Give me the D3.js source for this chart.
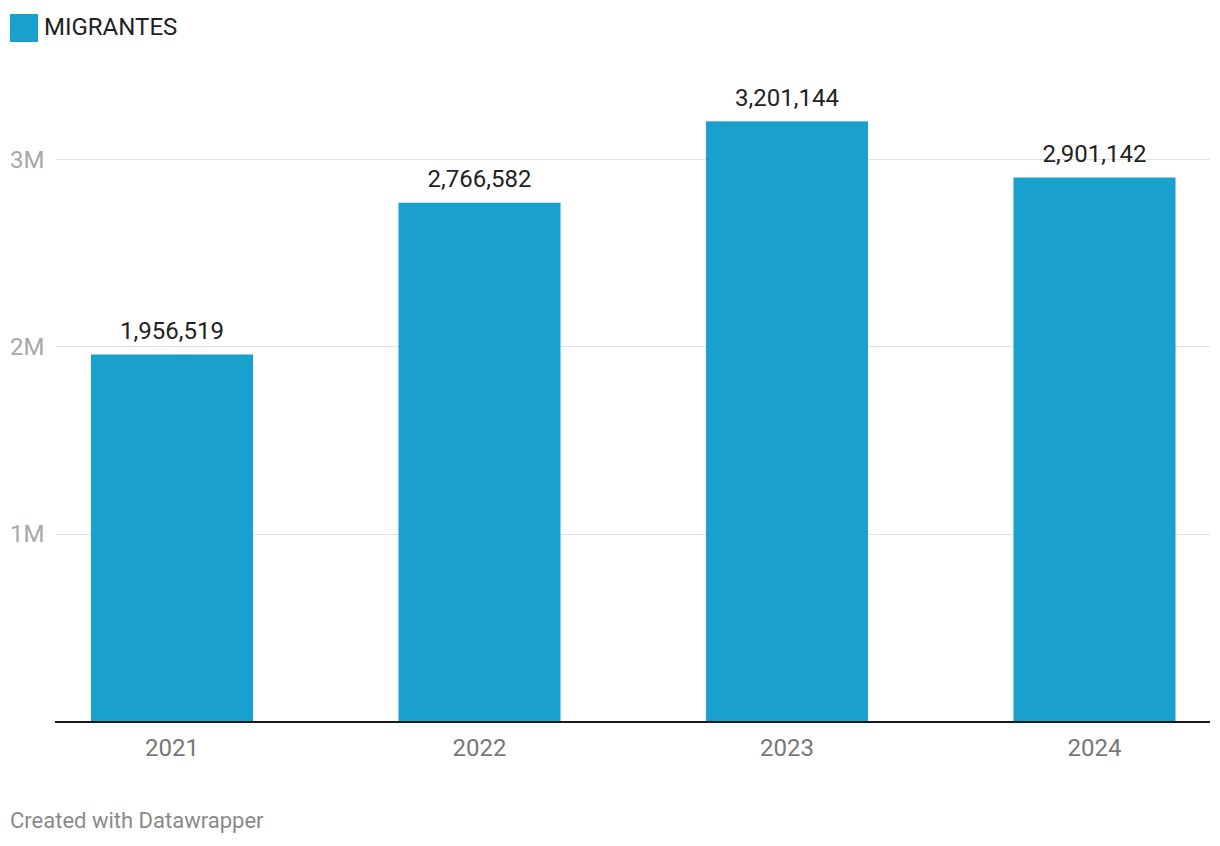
<!DOCTYPE html>
<html><head><meta charset="utf-8">
<script src="https://cdn.jsdelivr.net/npm/d3@7"></script>
<style>body{margin:0;background:#fff;font-family:Roboto,"Noto Sans",sans-serif;}</style>
</head><body>
<svg id="c" width="1220" height="846"></svg>
<script>
const categories = ["2021","2022","2023","2024"];
const values = [1956519, 2766582, 3201144, 2901142];
const yTicks = [1000000, 2000000, 3000000];
const yTickLabels = ["1M","2M","3M"];
const seriesName = "MIGRANTES";
const credit = "Created with Datawrapper";

const svg = d3.select("#c");
const color = "#1aa0cc";
const x = d3.scaleBand().domain(categories).range([18.25, 1248.25]).paddingInner(0.473).paddingOuter(0.2365);
const y = d3.scaleLinear().domain([0, 3000000]).range([721, 159]);

// legend
svg.append("rect").attr("x",10).attr("y",14).attr("width",28).attr("height",28).attr("fill",color);
svg.append("text").attr("x",44).attr("y",34.5).attr("font-size",24).attr("fill","#222").text(seriesName);

// gridlines
svg.selectAll(".grid").data(yTicks).join("line")
  .attr("x1",56).attr("x2",1210).attr("y1",d=>Math.round(y(d))+0.5).attr("y2",d=>Math.round(y(d))+0.5)
  .attr("stroke","#e0e0e0").attr("stroke-width",1);
svg.selectAll(".ytl").data(yTicks).join("text")
  .attr("x",10).attr("y",d=>y(d)+8.5).attr("font-size",24).attr("fill","#a8a8a8")
  .text((d,i)=>yTickLabels[i]);

// bars
svg.selectAll(".bar").data(values).join("rect")
  .attr("x",(d,i)=>x(categories[i])).attr("width",x.bandwidth())
  .attr("y",d=>y(d)).attr("height",d=>y(0)-y(d)).attr("fill",color);

// value labels
svg.selectAll(".vl").data(values).join("text")
  .attr("x",(d,i)=>x(categories[i])+x.bandwidth()/2).attr("y",d=>y(d)-15.5)
  .attr("text-anchor","middle").attr("font-size",24).attr("fill","#222")
  .text(d=>d3.format(",")(d));

// baseline
svg.append("line").attr("x1",55).attr("x2",1210).attr("y1",y(0)+1).attr("y2",y(0)+1)
  .attr("stroke","#1a1a1a").attr("stroke-width",2);

// x labels
svg.selectAll(".xl").data(categories).join("text")
  .attr("x",d=>x(d)+x.bandwidth()/2).attr("y",755.5)
  .attr("text-anchor","middle").attr("font-size",24).attr("fill","#777").text(d=>d);

svg.append("text").attr("x",10).attr("y",828).attr("font-size",22).attr("fill","#8a8a8a").text(credit);
</script>
</body></html>
